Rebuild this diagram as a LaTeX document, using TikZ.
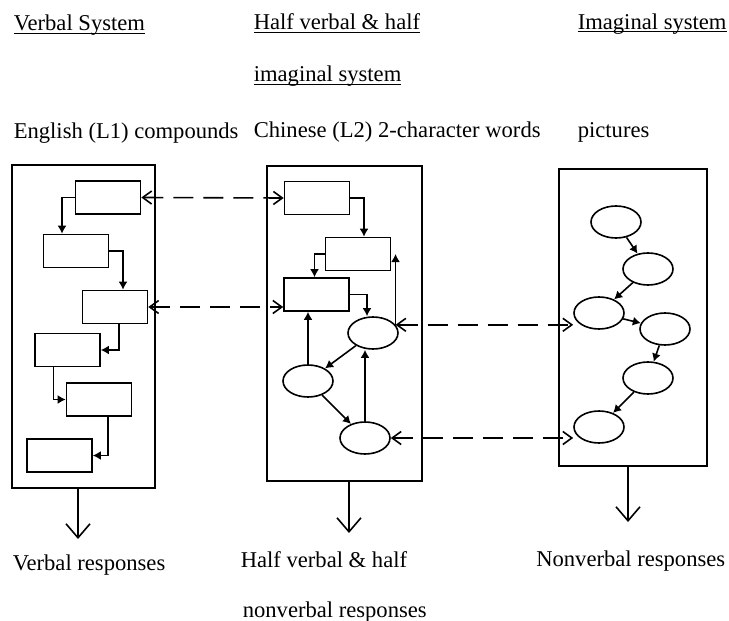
\documentclass[tikz,border=0pt]{standalone}
\usepackage{fontspec}
\setmainfont{Liberation Serif}
\usetikzlibrary{shapes.geometric, arrows.meta}
\newcommand{\hdr}[1]{\underline{\smash{#1}}}

\begin{document}
\begin{tikzpicture}[x=0.5pt, y=-0.5pt, line width=0.8pt,
 font=\fontsize{11.3}{13.6}\selectfont,
 panel/.style={rectangle,draw,inner sep=0pt},
 word node/.style={rectangle,draw,inner sep=0pt,minimum width=32.5pt,minimum height=16.5pt},
 pic node/.style={ellipse,draw,inner sep=0pt,minimum width=25pt,minimum height=16pt},
 text node/.style={anchor=base west,inner sep=0pt},
 flow/.style={-{Latex[length=4pt,width=4.5pt]}},
 link/.style={{Straight Barb[length=4.5pt,width=6.5pt]}-{Straight Barb[length=4.5pt,width=6.5pt]},dash pattern=on 10pt off 5pt},
 resp/.style={-{Straight Barb[length=7pt,width=12pt]}}]
  \useasboundingbox (0,0) rectangle (729,621);

  % titles
  \node[text node] (t1) at (13,31) {\hdr{Verbal System}};
  \node[text node] (t2) at (253,30) {\hdr{Half verbal \& half}};
  \node[text node] (t3) at (253,82) {\hdr{imaginal system}};
  \node[text node] (t4) at (577,29) {\hdr{Imaginal system}};
  \node[text node] (s1) at (13,138) {English (L1) compounds};
  \node[text node] (s2) at (253,137) {Chinese (L2) 2-character words};
  \node[text node] (s3) at (577,137) {pictures};

  % the three systems
  \node[panel,minimum width=71.5pt,minimum height=161.5pt] (vsys) at (83.5,326.5) {};
  \node[panel,minimum width=77.5pt,minimum height=157.5pt] (hsys) at (344.5,323.5) {};
  \node[panel,minimum width=74pt,minimum height=148.5pt] (isys) at (633,317.5) {};

  % verbal system
  \node[word node] (v1) at (108,197.5) {};
  \node[word node] (v2) at (76,251) {};
  \node[word node] (v3) at (115,307) {};
  \node[word node] (v4) at (67.5,350) {};
  \node[word node] (v5) at (99,399.5) {};
  \node[word node] (v6) at (59.5,455.5) {};

  \draw[flow] (v1.west) -| ([xshift=-7pt]v2.north);
  \draw[flow] (v2.east) -| ([xshift=4pt]v3.north);
  \draw[flow] ([xshift=2pt]v3.south) |- (v4.east);
  \draw[flow] ([xshift=-7pt]v4.south) |- (v5.west);
  \draw[flow] ([xshift=4.5pt]v5.south) |- (v6.east);

  % half verbal & half imaginal system
  \node[word node] (h1) at (317,198) {};
  \node[word node] (h2) at (358,254) {};
  \node[word node] (h3) at (316.5,294.5) {};
  \node[pic node] (e1) at (373,333) {};
  \node[pic node] (e2) at (308,381) {};
  \node[pic node] (e3) at (365,438) {};

  \draw[flow] (h1.east) -| ([xshift=3pt]h2.north);
  \draw[flow] (h2.west) -| ([xshift=-1pt]h3.north);
  \draw[flow] (h3.east) -| ([xshift=-3pt]e1.north);
  \draw[flow] (e1.20) -- (e1.20 |- h2.east);
  \draw[flow] (e2.north) -- (e2.north |- h3.south);
  \draw[flow] (e3.north) -- (e3.north |- e1.south);
  \foreach \s/\t in {e1/e2, e2/e3} {
   \path[draw,flow] (\s) edge (\t);}

  % imaginal system
  \node[pic node] (p1) at (616,222) {};
  \node[pic node] (p2) at (648,269) {};
  \node[pic node] (p3) at (599,313) {};
  \node[pic node] (p4) at (665,329) {};
  \node[pic node] (p5) at (648,378) {};
  \node[pic node] (p6) at (599,427) {};

  \foreach \s/\t in {p1/p2, p2/p3, p3/p4, p4/p5, p5/p6} {
   \path[draw,flow] (\s) edge (\t);}

  % links between systems
  \draw[link] (v1.east) -- (h1.west);
  \draw[link] (v3.east) -- (v3.east -| h3.west);
  \draw[link] (e1.20) -- (e1.20 -| p3.west);
  \draw[link] (e3.east) -- (e3.east -| p6.west);

  % responses
  \coordinate (vout) at (78,539);
  \coordinate (hout) at (349,533);
  \coordinate (iout) at (628,522);
  \draw[resp] (vsys.south -| vout) -- (vout);
  \draw[resp] (hsys.south -| hout) -- (hout);
  \draw[resp] (isys.south -| iout) -- (iout);

  \node[text node] (r1) at (12,570) {Verbal responses};
  \node[text node] (r2) at (240,567) {Half verbal \& half};
  \node[text node] (r3) at (242,617) {nonverbal responses};
  \node[text node,anchor=base east] (r4) at (726,566) {Nonverbal responses};
\end{tikzpicture}
\end{document}
